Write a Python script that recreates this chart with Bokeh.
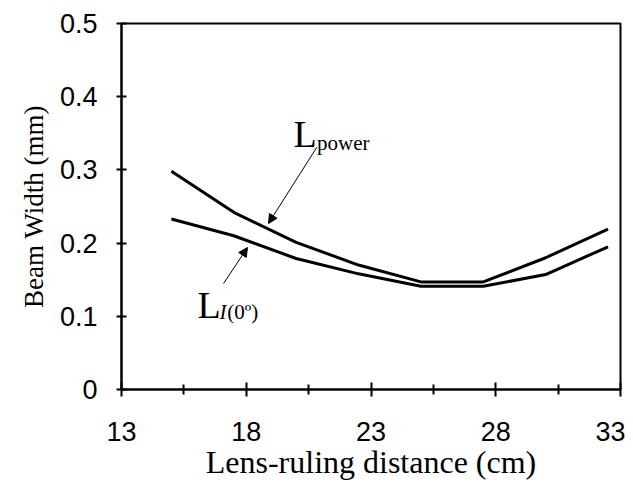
from bokeh.plotting import figure
from bokeh.models import (FixedTicker, CustomJSTickFormatter, Range1d, Arrow,
                          NormalHead, Label)
from bokeh.embed import file_html
from bokeh.resources import INLINE

# ---- data ----
distance = [15, 17.5, 20, 22.5, 25, 27.5, 30, 32.5]
l_power = [0.298, 0.242, 0.201, 0.170, 0.147, 0.147, 0.180, 0.219]
l_i0 = [0.233, 0.210, 0.179, 0.158, 0.141, 0.141, 0.157, 0.195]
x_ticks = [13, 18, 23, 28, 33]
y_ticks = [0, 0.1, 0.2, 0.3, 0.4, 0.5]

p = figure(frame_width=499, frame_height=366, output_backend="svg",
           toolbar_location=None, x_range=Range1d(13, 33), y_range=Range1d(0, 0.5),
           min_border_left=121, min_border_right=5, min_border_top=23,
           min_border_bottom=85)
p.background_fill_color = "white"
p.border_fill_color = "white"
p.outline_line_color = "black"
p.outline_line_width = 2
p.xgrid.visible = False
p.ygrid.visible = False

p.line(distance, l_power, line_color="black", line_width=3)
p.line(distance, l_i0, line_color="black", line_width=3)

SANS = "Liberation Sans"
SERIF = "Liberation Serif"

xa = p.xaxis[0]
xa.ticker = FixedTicker(ticks=x_ticks, minor_ticks=[15.5, 20.5, 25.5, 30.5])
xa.axis_line_width = 2
xa.major_tick_line_width = 2
xa.minor_tick_line_width = 2
xa.major_tick_in = 7
xa.major_tick_out = 7
xa.minor_tick_in = 5
xa.minor_tick_out = 5
xa.major_label_text_font = SANS
xa.major_label_text_font_size = "27px"
xa.major_label_text_color = "black"
xa.major_label_standoff = 25
xa.axis_label = "Lens-ruling distance (cm)"
xa.axis_label_text_font = SERIF
xa.axis_label_text_font_style = "normal"
xa.axis_label_text_font_size = "32px"
xa.axis_label_standoff = 0
xa.axis_label_text_color = "black"

ya = p.yaxis[0]
ya.ticker = FixedTicker(ticks=y_ticks, minor_ticks=[])
ya.formatter = CustomJSTickFormatter(code="return tick == 0 ? '0' : tick.toFixed(1);")
ya.axis_line_width = 2
ya.major_tick_line_width = 2
ya.major_tick_in = 5
ya.major_tick_out = 5
ya.major_label_text_font = SANS
ya.major_label_text_font_size = "27px"
ya.major_label_text_color = "black"
ya.major_label_standoff = 19
ya.axis_label = "Beam Width (mm)"
ya.axis_label_text_font = SERIF
ya.axis_label_text_font_style = "normal"
ya.axis_label_text_font_size = "27px"
ya.axis_label_standoff = 8
ya.axis_label_text_color = "black"

# annotations
def lbl(x, y, text, size, style="normal"):
    p.add_layout(Label(x=x, y=y, text=text, text_font=SERIF, text_font_size=size,
                       text_font_style=style, text_color="black",
                       text_baseline="alphabetic", text_align="left"))

lbl(19.89, 0.3497, "L", "38px")
lbl(20.84, 0.3374, "power", "21px")
lbl(16.05, 0.1148, "L", "38px")
lbl(16.93, 0.106, "I", "21px", "italic")
lbl(17.24, 0.106, "(0º)", "21px")

p.add_layout(Arrow(x_start=20.83, y_start=0.331, x_end=18.89, y_end=0.2268,
                   line_color="black", line_width=1,
                   end=NormalHead(size=9, fill_color="black", line_color="black")))
p.add_layout(Arrow(x_start=17.09, y_start=0.1448, x_end=18.05, y_end=0.194,
                   line_color="black", line_width=1,
                   end=NormalHead(size=9, fill_color="black", line_color="black")))

open("out.html", "w").write(file_html(p, INLINE))
